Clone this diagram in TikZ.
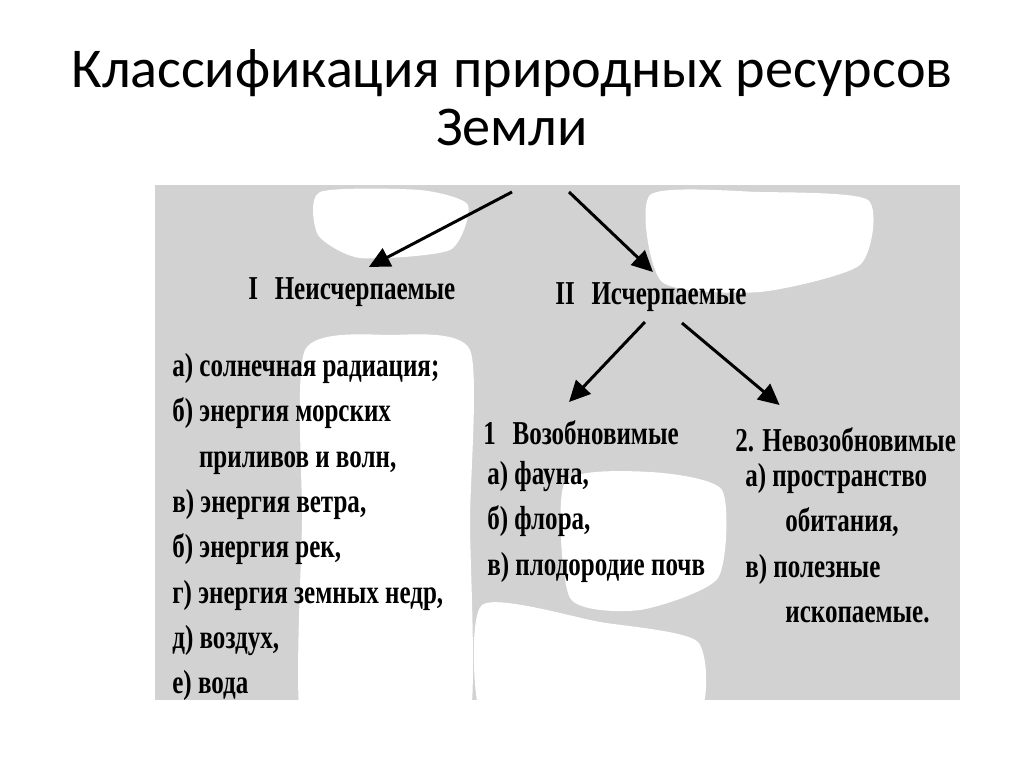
\documentclass[tikz,border=0pt]{standalone}
\usepackage{fontspec}
\setmainfont{Liberation Serif}
\newfontfamily\titlefont{Carlito}
\newfontfamily\scanfont[FakeStretch=0.75]{Liberation Serif}
\usetikzlibrary{arrows.meta, calc}
\definecolor{scangray}{RGB}{210,210,210}
\tikzset{
    titletext/.style={font=\titlefont\fontsize{32}{33}\selectfont, align=center, inner sep=0pt},
    classhead/.style={font=\scanfont\fontsize{19}{25.8}\selectfont\bfseries, inner sep=0pt, anchor=west},
    itemlist/.style={font=\scanfont\fontsize{19}{25.8}\selectfont\bfseries, inner sep=0pt,
                     align=left, anchor=north west},
    arrow/.style={-{Triangle[length=0.42cm, width=0.4cm]}, line width=1.7pt},
    blank/.style={fill=white},
}
\begin{document}
\begin{tikzpicture}[x=0.02cm, y=-0.02cm]
    \useasboundingbox[fill=white] (0,0) rectangle (1024,767);
    % scanned background
    \begin{scope}
        \clip (155,185) rectangle (960,700);
        \fill[scangray] (155,185) rectangle (960,700);
        \fill[blank] plot[smooth cycle, tension=0.4] coordinates {(305,350) (390,335) (470,350) (470,520) (468,730) (380,740) (302,730) (302,520)};
        \fill[blank] plot[smooth cycle, tension=0.4] coordinates {(320,192) (420,190) (468,205) (450,250) (360,258) (318,235)};
        \fill[blank] plot[smooth cycle, tension=0.4] coordinates {(650,195) (760,192) (868,200) (860,265) (760,292) (662,282)};
        \fill[blank] plot[smooth cycle, tension=0.4] coordinates {(565,482) (650,472) (722,490) (718,578) (640,610) (570,598)};
        \fill[blank] plot[smooth cycle, tension=0.4] coordinates {(482,605) (600,622) (698,642) (695,720) (560,730) (482,720)};
    \end{scope}
    % title
    \node[titletext] (title) at (512,98) {Классификация природных ресурсов\\Земли};
    % classes
    \coordinate (topl) at (512,192);
    \coordinate (topr) at (569,192);
    \node[classhead] (nonexh) at (248,292) {I\enspace Неисчерпаемые};
    \node[classhead] (exh) at (555,297) {II\enspace Исчерпаемые};
    \node[classhead] (renew) at (483,433) {1\enspace Возобновимые};
    \node[classhead] (nonrenew) at (735,440) {2. Невозобновимые};
    % lists
    \node[itemlist] (nonexhlist) at (172,353)
        {а) солнечная радиация;\\
         б) энергия морских\\
         \hspace{0.8em}приливов и волн,\\
         в) энергия ветра,\\
         б) энергия рек,\\
         г) энергия земных недр,\\
         д) воздух,\\
         е) вода};
    \node[itemlist] (renewlist) at (487,461)
        {а) фауна,\\
         б) флора,\\
         в) плодородие почв};
    \node[itemlist] (nonrenewlist) at (745,463)
        {а) пространство\\
         \hspace{1.2em}обитания,\\
         в) полезные\\
         \hspace{1.2em}ископаемые.};
    % arrows
    \draw[arrow] (topl) -- ($(nonexh)+(17,-25)$);
    \draw[arrow] (topr) -- ($(exh)+(2,-25)$);
    \draw[arrow] ($(exh)+(-6,25)$) -- ($(renew)+(-12,-31)$);
    \draw[arrow] ($(exh)+(31,26)$) -- ($(nonrenew)+(-66,-35)$);
\end{tikzpicture}
\end{document}
